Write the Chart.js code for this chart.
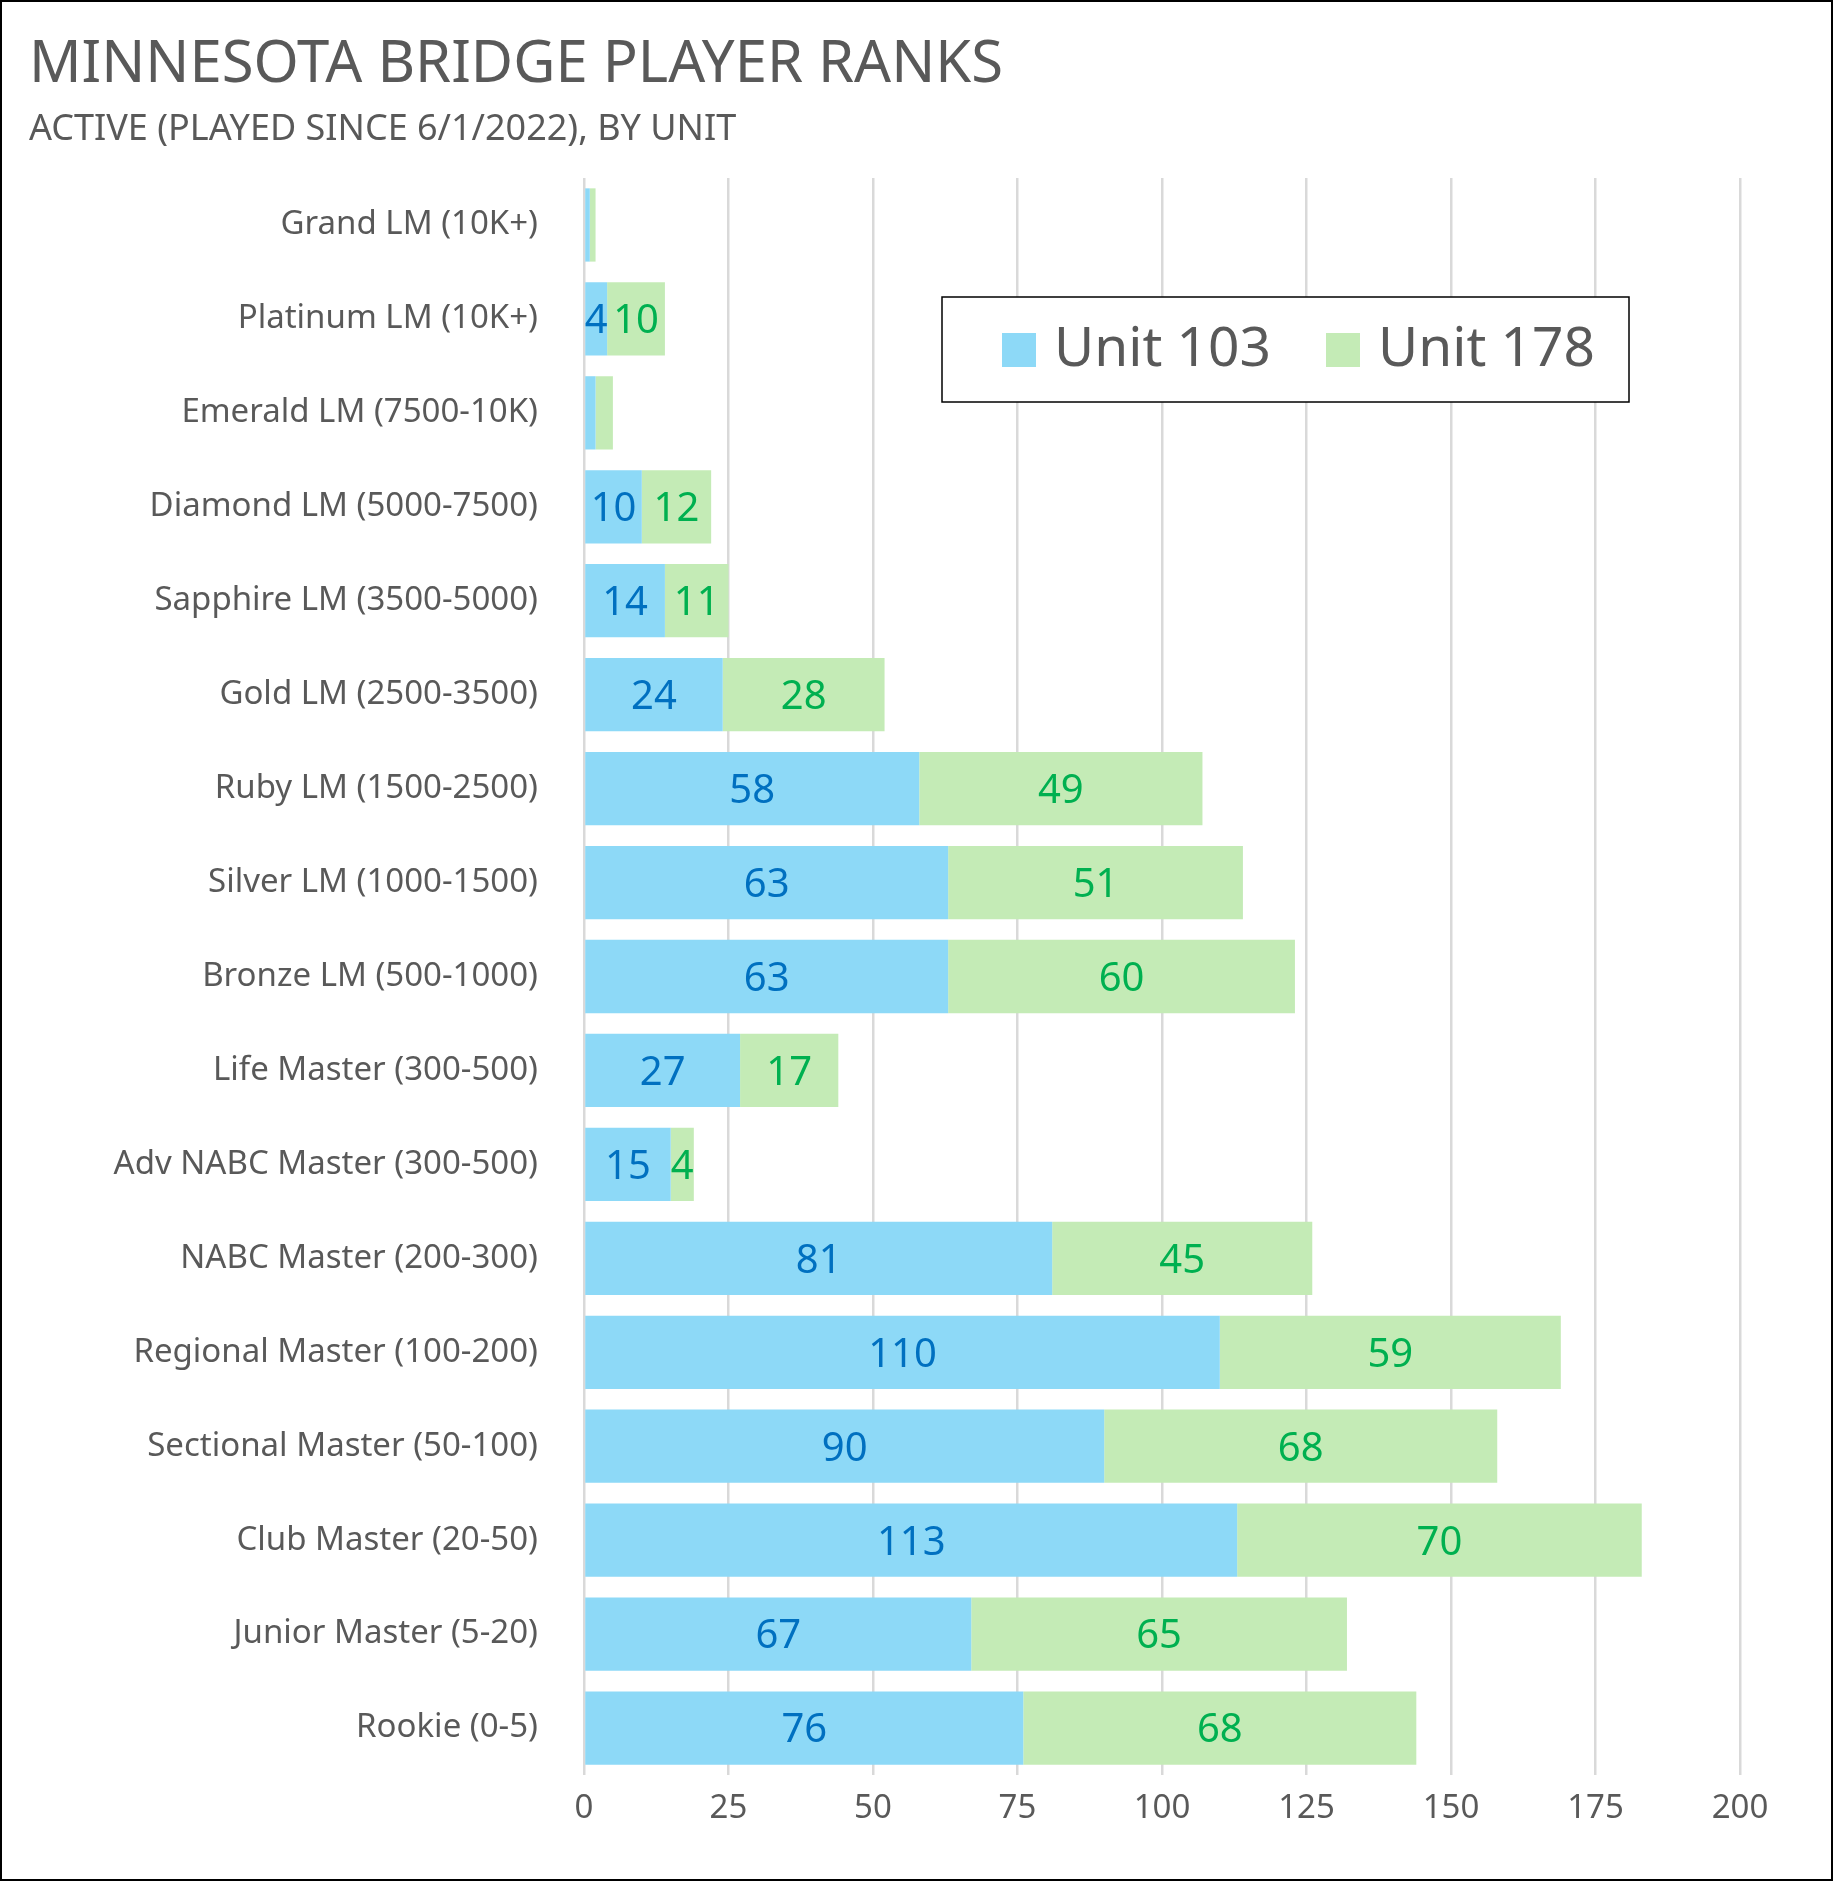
<!DOCTYPE html>
<html><head><meta charset="utf-8">
<script src="https://cdn.jsdelivr.net/npm/chart.js@4"></script>
<style>html,body{margin:0;padding:0;background:#fff}
#w{position:absolute;left:0;top:0;width:1833px;height:1881px;box-sizing:border-box;border:2px solid #000}
canvas{display:block}</style></head><body>
<div id="w"><canvas id="c" width="1829" height="1877" style="width:1829px;height:1877px"></canvas></div>
<script>
const categories=["Grand LM (10K+)","Platinum LM (10K+)","Emerald LM (7500-10K)","Diamond LM (5000-7500)","Sapphire LM (3500-5000)","Gold LM (2500-3500)","Ruby LM (1500-2500)","Silver LM (1000-1500)","Bronze LM (500-1000)","Life Master (300-500)","Adv NABC Master (300-500)","NABC Master (200-300)","Regional Master (100-200)","Sectional Master (50-100)","Club Master (20-50)","Junior Master (5-20)","Rookie (0-5)"];
const unit103=[1,4,2,10,14,24,58,63,63,27,15,81,110,90,113,67,76];
const unit178=[1,10,3,12,11,28,49,51,60,17,4,45,59,68,70,65,68];
const hiddenLabels=[0,2];
const F="'Noto Sans', sans-serif";
const txt='#595959';
const dl={id:'dl',afterDatasetsDraw(ch){const c=ch.ctx;c.save();c.font='40px '+F;c.textAlign='center';c.textBaseline='middle';
 ch.data.datasets.forEach((ds,i)=>{const m=ch.getDatasetMeta(i);c.fillStyle=i?'#00B050':'#0070C0';
 m.data.forEach((b,j)=>{if(hiddenLabels.includes(j))return;const x=(b.x+b.base)/2;c.fillText(String(ds.data[j]),x,b.y+3);});});c.restore();}};
const deco={id:'deco',afterDraw(ch){const c=ch.ctx;c.save();c.fillStyle=txt;c.textBaseline='alphabetic';c.textAlign='left';
 c.font='58px '+F;c.fillText('MINNESOTA BRIDGE PLAYER RANKS',27,80);
 c.font='36px '+F;c.fillText('ACTIVE (PLAYED SINCE 6/1/2022), BY UNIT',27,138);
 c.fillStyle='#fff';c.fillRect(940,295,687,105);c.strokeStyle='#000';c.lineWidth=1.5;c.strokeRect(940,295,687,105);
 c.font='55px '+F;c.textBaseline='middle';
 c.fillStyle='#8DD9F7';c.fillRect(1000,331,34,34);c.fillStyle=txt;c.fillText('Unit 103',1052,348);
 c.fillStyle='#C4EBB6';c.fillRect(1324,331,34,34);c.fillStyle=txt;c.fillText('Unit 178',1376,348);
 c.restore();}};
new Chart(document.getElementById('c'),{type:'bar',
 data:{labels:categories,datasets:[
  {label:'Unit 103',data:unit103,backgroundColor:'#8DD9F7',categoryPercentage:0.78,barPercentage:1},
  {label:'Unit 178',data:unit178,backgroundColor:'#C4EBB6',categoryPercentage:0.78,barPercentage:1}]},
 options:{indexAxis:'y',responsive:false,animation:false,devicePixelRatio:1,
  layout:{padding:{left:0,right:91,top:176,bottom:0}},
  plugins:{legend:{display:false},tooltip:{enabled:false}},
  scales:{
   x:{stacked:true,min:0,max:200,ticks:{stepSize:25,color:txt,font:{size:33,family:F},padding:14},
      grid:{color:'#d9d9d9',lineWidth:2.5,drawTicks:false},border:{display:false},
      afterFit(s){s.height=104;}},
   y:{stacked:true,ticks:{color:txt,font:{size:33,family:F},padding:38},grid:{display:false},border:{display:false},
      afterFit(s){s.width=582;}}}},
 plugins:[dl,deco]});
</script>
</body></html>
